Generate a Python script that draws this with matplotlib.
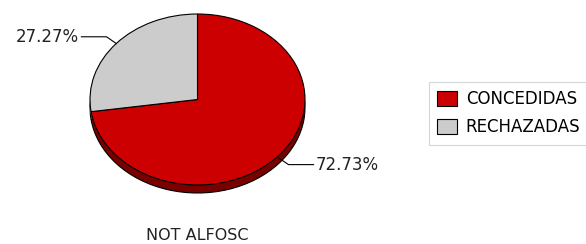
import numpy as np
import matplotlib.pyplot as plt
from matplotlib.patches import Patch

LABELS = ["CONCEDIDAS", "RECHAZADAS"]
VALUES = [72.73, 27.27]
COLORS = ["#cc0000", "#cccccc"]
SIDE_COLORS = ["#7a0000", "#8a8a8a"]
TITLE = "NOT ALFOSC"

W, H = 586, 244
fig = plt.figure(figsize=(W / 100, H / 100), dpi=100)
fig.patch.set_facecolor("white")

# pie axes placed in pixel coordinates, non-equal aspect gives the ellipse
x0, x1, y0, y1 = 90, 305, 14, 195
ax = fig.add_axes([x0 / W, 1 - y1 / H, (x1 - x0) / W, (y1 - y0) / H])
ry_px = 85.5
depth = 8 / ry_px

# side (depth) of the pie
ax.pie(VALUES, colors=SIDE_COLORS, startangle=90, counterclock=False,
       center=(0, -depth), radius=1, frame=True,
       wedgeprops=dict(edgecolor="black", linewidth=0.8))
ax.pie(VALUES, colors=SIDE_COLORS, startangle=90, counterclock=False,
       center=(0, -depth / 2), radius=1, frame=True,
       wedgeprops=dict(edgecolor="none"))
wedges, _ = ax.pie(VALUES, colors=COLORS, startangle=90, counterclock=False,
                   center=(0, 0), radius=1, frame=True,
                   wedgeprops=dict(edgecolor="black", linewidth=0.8))
ax.set_aspect("auto")
ax.set_xlim(-1, 1)
ax.set_ylim(1 - (y1 - y0) / ry_px, 1)
ax.axis("off")

# percentage labels with leader lines
for w, v in zip(wedges, VALUES):
    a = np.deg2rad((w.theta1 + w.theta2) / 2)
    px, py = np.cos(a), np.sin(a)
    ex, ey = 1.12 * px, 1.12 * py
    side = 1 if px > 0 else -1
    if py < 0:
        py, ey = py - depth * 0.3, ey - depth * 0.3
    ax.plot([px, ex, side * 1.08], [py, ey, ey], color="black", lw=0.8,
            clip_on=False)
    ax.text(side * 1.1, ey, f"{v:.2f}%", ha="left" if side > 0 else "right",
            va="center", fontsize=12, color="#222222", clip_on=False)

handles = [Patch(facecolor=c, edgecolor="black", linewidth=0.8) for c in COLORS]
leg = fig.legend(handles, LABELS, loc="upper left",
                 bbox_to_anchor=(429 / W, 1 - 82 / H), fontsize=12,
                 handlelength=1.15, handleheight=0.95, handletextpad=0.55,
                 borderpad=0.5, labelspacing=0.6, fancybox=False,
                 borderaxespad=0)
leg.get_frame().set_edgecolor("#cccccc")
leg.get_frame().set_linewidth(0.8)

fig.text(197 / W, 1 - 235 / H, TITLE, ha="center", va="center", fontsize=11.5,
         color="#222222")

fig.savefig("out.png", dpi=100)
